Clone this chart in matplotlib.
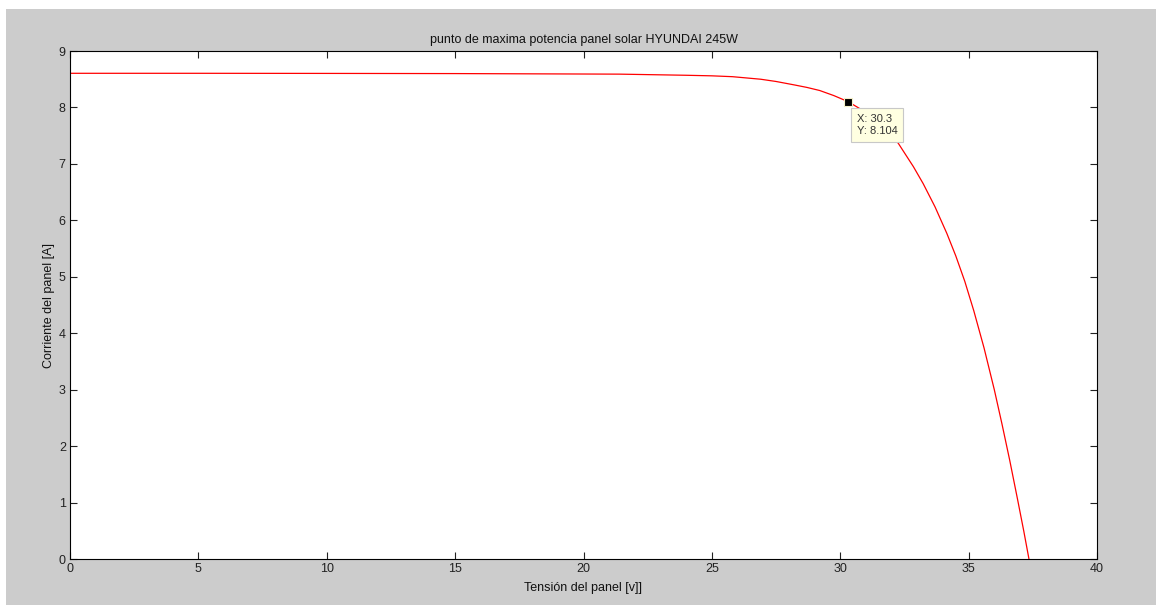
import matplotlib
matplotlib.use('Agg')
import matplotlib.pyplot as plt
from matplotlib.patches import Rectangle

# Curva I-V del panel (tension en V, corriente en A)
voltage = [0.0, 5.0, 10.0, 15.0, 21.4, 24.0, 25.0, 25.8, 26.9, 27.5, 28.2,
           28.7, 29.2, 29.75, 30.3, 31.0, 31.6, 32.26, 32.85, 33.23, 33.69,
           34.15, 34.5, 34.85, 35.2, 35.6, 36.0, 36.3, 36.6, 36.9, 37.15, 37.35]
current = [8.605, 8.605, 8.603, 8.60, 8.59, 8.57, 8.56, 8.545, 8.50, 8.46, 8.40,
           8.355, 8.30, 8.21, 8.104, 7.915, 7.675, 7.365, 6.95, 6.65, 6.24,
           5.77, 5.37, 4.92, 4.40, 3.74, 3.00, 2.39, 1.75, 1.07, 0.49, 0.0]

# Punto de maxima potencia
v_mpp = 30.3
i_mpp = 8.104

x_ticks = [0, 5, 10, 15, 20, 25, 30, 35, 40]
y_ticks = [0, 1, 2, 3, 4, 5, 6, 7, 8, 9]

W, H = 1157, 605
fig = plt.figure(figsize=(W / 100, H / 100), dpi=100, facecolor='white')
fig.patches.append(Rectangle((6 / W, 0), (W - 7) / W, (H - 9) / H,
                             transform=fig.transFigure, facecolor='#cccccc',
                             edgecolor='none', zorder=-10))

ax = fig.add_axes([70 / W, (H - 559) / H, 1027 / W, 508 / H])
ax.set_facecolor('white')

ax.plot(voltage, current, '-', color='#ff0000', lw=0.9)
ax.plot([v_mpp], [i_mpp], 's', color='black', markersize=6,
        markeredgecolor='#f5f0c8', markeredgewidth=0.8, zorder=5)
ax.annotate(f'X: {v_mpp:g}\nY: {i_mpp:g}', xy=(v_mpp, i_mpp),
            xytext=(9, -12), textcoords='offset pixels', ha='left', va='top',
            fontsize=8, family='Liberation Sans', color='#333333',
            linespacing=1.3,
            bbox=dict(boxstyle='square,pad=0.5', facecolor='#ffffe1',
                      edgecolor='#c8c8c8', lw=0.8), zorder=6)

ax.set_xlim(0, 40)
ax.set_ylim(0, 9)
ax.set_xticks(x_ticks)
ax.set_yticks(y_ticks)
ax.tick_params(direction='in', top=True, right=True, length=5, width=0.8,
               labelsize=9, colors='#222222', pad=3)
for lbl in ax.get_xticklabels() + ax.get_yticklabels():
    lbl.set_family('Liberation Sans')
for s in ax.spines.values():
    s.set_linewidth(0.8)

ax.set_title('punto de maxima potencia panel solar HYUNDAI 245W', fontsize=9,
             family='Liberation Sans', color='#111111', pad=6)
ax.set_xlabel('Tensión del panel [v]]', fontsize=9, family='Liberation Sans',
              color='#111111', labelpad=5)
ax.set_ylabel('Corriente del panel [A]', fontsize=9, family='Liberation Sans',
              color='#111111', labelpad=3)

fig.savefig('out.png', dpi=100, facecolor=fig.get_facecolor())
